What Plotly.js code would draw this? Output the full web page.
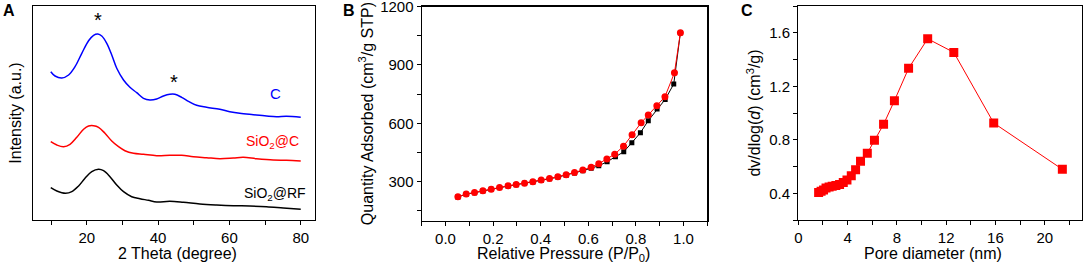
<!DOCTYPE html>
<html>
<head>
<meta charset="utf-8">
<script src="https://cdn.plot.ly/plotly-3.0.1.min.js"></script>
<style>html,body{margin:0;padding:0;background:#fff;}#chart{width:1084px;height:264px;}</style>
</head>
<body>
<div id="chart"></div>
<script>
// ---- Panel A: XRD (intensity in arbitrary units, offset curves) ----
const xrdThetaC = [9.9,11.1,13.0,14.9,16.7,18.6,20.5,21.9,23.1,24.2,25.6,27.0,28.4,30.3,32.1,34.0,35.9,37.7,39.6,41.5,43.3,44.7,46.6,48.5,50.8,53.6,57.3,60.1,62.9,66.7,70.4,73.2,76.0,80.0];
const xrdIntC = [148.3,144,142,145,153.3,166.7,179.3,184.7,186,184,176.7,165,151.7,140,132.7,127.3,121.7,120,121,124,125.7,125.7,122.7,118.7,114.7,112.7,110.7,108.3,106.7,105.3,104,103.3,103.7,102.7];
const xrdThetaSiC = [9.9,11.6,13.5,15.3,17.2,19.1,20.5,21.9,23.3,25.1,27.0,28.9,30.7,33.1,35.9,39.6,43.3,46.6,49.9,53.6,57.3,61.1,63.9,67.6,72.3,76.0,80.0];
const xrdIntSiC = [78.3,75,73.3,75.7,82.7,90.7,94,94.3,92.7,86.7,79,73.3,69.3,66.7,65.7,64.3,64.7,64.7,63.3,62.3,61.3,62,62.7,61.3,60,59.7,59];
const xrdThetaRF = [9.9,11.6,14.0,15.8,17.7,19.5,21.4,23.3,24.7,26.5,28.4,30.3,32.6,34.9,37.3,39.6,43.3,47.1,51.7,56.4,61.1,65.7,70.4,75.1,80.0];
const xrdIntRF = [32.3,29,26.7,28.3,34,41.7,48.3,50.7,49.3,43.3,35,28.3,23.3,21.3,19.7,18,18.7,17.7,16,15,14.3,14,13.3,12,10.7];
const xrdLabels = ["C","SiO<sub>2</sub>@C","SiO<sub>2</sub>@RF"];

// ---- Panel B: N2 isotherm ----
const pDes = [0.052,0.087,0.122,0.157,0.192,0.227,0.263,0.297,0.332,0.367,0.402,0.437,0.472,0.507,0.542,0.577,0.612,0.644,0.678,0.711,0.748,0.784,0.822,0.852,0.888,0.922,0.962,0.987];
const qDes = [223,237,245,254,262,271,279,286,293,300,309,317,326,336,348,360,375,393,417,442,483,542,603,643,691,737,860,1066];
const pAds = [0.052,0.087,0.122,0.157,0.192,0.227,0.263,0.297,0.332,0.367,0.402,0.437,0.472,0.507,0.542,0.577,0.612,0.644,0.679,0.714,0.749,0.783,0.819,0.852,0.889,0.923,0.959,0.987];
const qAds = [222,236,244,253,261,270,278,285,292,299,307,315,324,334,345,357,370,382,403,429,454,501,552,614,674,723,802,1066];

// ---- Panel C: pore size distribution ----
const poreD = [1.65,1.85,2.05,2.25,2.5,2.75,3.05,3.35,3.65,3.95,4.3,4.65,5.05,5.6,6.18,6.92,7.8,8.95,10.5,12.62,15.86,21.43];
const dvdlogd = [0.405,0.415,0.425,0.44,0.447,0.452,0.458,0.465,0.48,0.50,0.53,0.575,0.64,0.70,0.797,0.915,1.092,1.334,1.555,1.453,0.925,0.579];

const xTitles = ['2 Theta (degree)', 'Relative Pressure (P/P<sub>0</sub>)', 'Pore diameter (nm)'];

const W = 1084, H = 264;
const fx = p => p / W;
const fy = p => (H - p) / H;
const FONT = "Arial, 'Liberation Sans', sans-serif";

const traces = [
  {x: xrdThetaC, y: xrdIntC, xaxis:'x', yaxis:'y', mode:'lines', line:{color:'#0000ff', width:1.5, shape:'spline'}},
  {x: xrdThetaSiC, y: xrdIntSiC, xaxis:'x', yaxis:'y', mode:'lines', line:{color:'#ff0000', width:1.5, shape:'spline'}},
  {x: xrdThetaRF, y: xrdIntRF, xaxis:'x', yaxis:'y', mode:'lines', line:{color:'#000000', width:1.5, shape:'spline'}},
  {x: pAds, y: qAds, xaxis:'x2', yaxis:'y2', mode:'lines+markers', line:{color:'#000000', width:1}, marker:{symbol:'square', size:5, color:'#000000'}},
  {x: pDes, y: qDes, xaxis:'x2', yaxis:'y2', mode:'lines+markers', line:{color:'#ff0000', width:1}, marker:{symbol:'circle', size:7, color:'#ff0000'}},
  {x: poreD, y: dvdlogd, xaxis:'x3', yaxis:'y3', mode:'lines+markers', line:{color:'#ff0000', width:1}, marker:{symbol:'square', size:9, color:'#ff0000'}}
];

const axBase = {
  showline:true, mirror:true, linecolor:'#000', linewidth:1.2, showgrid:false, zeroline:false,
  ticks:'outside', ticklen:4, tickwidth:1, tickcolor:'#000', ticklabeloverflow:'allow',
  tickfont:{family:FONT, size:15, color:'#000'}
};
const tf = {family:FONT, size:16, color:'#000'};

const layout = {
  width: W, height: H,
  margin:{l:0, r:0, t:0, b:0},
  paper_bgcolor:'#fff', plot_bgcolor:'#fff',
  showlegend:false,
  font:{family:FONT, color:'#000'},
  xaxis: Object.assign({}, axBase, {
    domain:[fx(33.3), fx(315)], anchor:'y', range:[5,84], tick0:0, dtick:20,
    minor:{dtick:10, ticks:'outside', ticklen:4, tickcolor:'#000'}
  }),
  yaxis: Object.assign({}, axBase, {
    domain:[fy(220), fy(6)], anchor:'x', range:[0,214], ticks:'', showticklabels:false,
    title:{text:'Intensity (a.u.)', font:tf, standoff:6}
  }),
  xaxis2: Object.assign({}, axBase, {
    domain:[fx(421.7), fx(707.3)], anchor:'y2', range:[-0.1,1.1], tick0:0, dtick:0.2, tickformat:'.1f',
    minor:{dtick:0.1, ticks:'outside', ticklen:4, tickcolor:'#000'}
  }),
  yaxis2: Object.assign({}, axBase, {
    domain:[fy(220.7), fy(6.5)], anchor:'x2', range:[100,1200.5], tick0:0, dtick:300,
    minor:{dtick:150, ticks:'outside', ticklen:4, tickcolor:'#000'},
    title:{text:'Quantity Adsorbed (cm<sup>3</sup>/g STP)', font:tf, standoff:2}
  }),
  xaxis3: Object.assign({}, axBase, {
    domain:[fx(798.3), fx(1081.7)], anchor:'y3', range:[0,23], tick0:0, dtick:4,
    minor:{dtick:2, ticks:'outside', ticklen:4, tickcolor:'#000'}
  }),
  yaxis3: Object.assign({}, axBase, {
    domain:[fy(220), fy(6)], anchor:'x3', range:[0.2,1.8], tick0:0, dtick:0.4, tickformat:'.1f',
    minor:{dtick:0.2, ticks:'outside', ticklen:4, tickcolor:'#000'},
    title:{text:'dv/dlog(<i>d</i>) (cm<sup>3</sup>/g)', font:tf, standoff:4}
  }),
  annotations: [
    {xref:'paper', yref:'paper', x:fx(177), y:fy(243), xanchor:'center', yanchor:'top', text:xTitles[0], showarrow:false, font:tf},
    {xref:'paper', yref:'paper', x:fx(563), y:fy(243), xanchor:'center', yanchor:'top', text:xTitles[1], showarrow:false, font:tf},
    {xref:'paper', yref:'paper', x:fx(933), y:fy(243), xanchor:'center', yanchor:'top', text:xTitles[2], showarrow:false, font:tf},
    {xref:'paper', yref:'paper', x:fx(1), y:fy(0), xanchor:'left', yanchor:'top', text:'<b>A</b>', showarrow:false, font:{family:FONT, size:16, color:'#000'}},
    {xref:'paper', yref:'paper', x:fx(341), y:fy(0), xanchor:'left', yanchor:'top', text:'<b>B</b>', showarrow:false, font:{family:FONT, size:16, color:'#000'}},
    {xref:'paper', yref:'paper', x:fx(739), y:fy(0), xanchor:'left', yanchor:'top', text:'<b>C</b>', showarrow:false, font:{family:FONT, size:16, color:'#000'}},
    {xref:'x', yref:'y', x:23.2, y:200, text:'*', showarrow:false, font:{family:FONT, size:20, color:'#000'}},
    {xref:'x', yref:'y', x:44.4, y:138, text:'*', showarrow:false, font:{family:FONT, size:20, color:'#000'}},
    {xref:'x', yref:'y', x:72.8, y:127, text:xrdLabels[0], showarrow:false, font:{family:FONT, size:15, color:'#0000ff'}},
    {xref:'x', yref:'y', x:72.2, y:78, text:xrdLabels[1], showarrow:false, font:{family:FONT, size:14, color:'#ff0000'}},
    {xref:'x', yref:'y', x:72.7, y:26, text:xrdLabels[2], showarrow:false, font:{family:FONT, size:14, color:'#000'}}
  ]
};

Plotly.newPlot('chart', traces, layout, {staticPlot:true, displayModeBar:false});
</script>
</body>
</html>
